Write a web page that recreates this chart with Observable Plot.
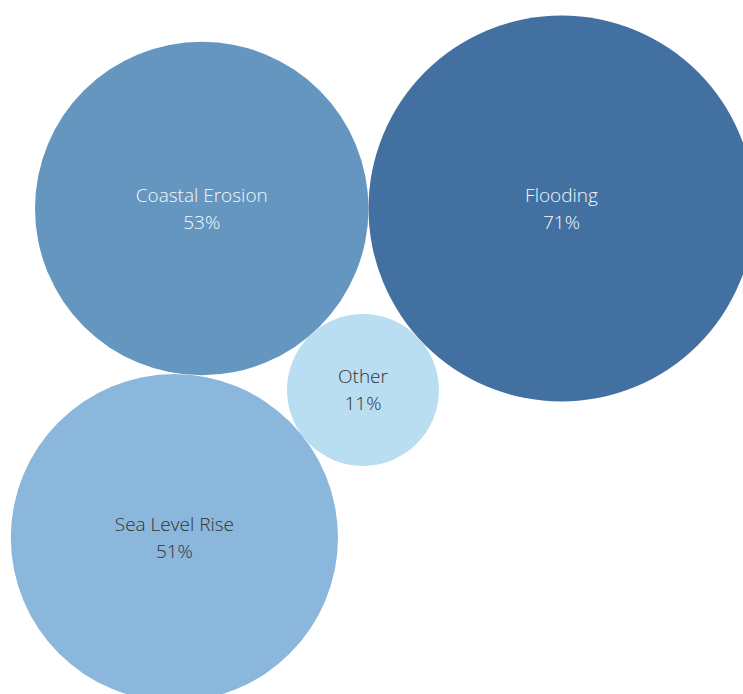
<!DOCTYPE html>
<html>
<head>
<meta charset="utf-8">
<script src="https://cdn.jsdelivr.net/npm/d3@7"></script>
<script src="https://cdn.jsdelivr.net/npm/@observablehq/plot@0.6"></script>
<style>
  html, body { margin: 0; padding: 0; background: #fff; overflow: hidden; }
</style>
</head>
<body>
<div id="chart"></div>
<script>
// Data
const categories = ["Flooding", "Coastal Erosion", "Other", "Sea Level Rise"];
const values = [71, 53, 11, 51];
const labels = ["71%", "53%", "11%", "51%"];
const fills = ["#4270a0", "#6496bf", "#b9ddf1", "#8ab7db"];
const textColors = ["#f4f8fb", "#f4f8fb", "#333333", "#333333"];

const W = 743, H = 694, maxR = 193;
const rad = d3.scaleSqrt().domain([0, d3.max(values)]).range([0, maxR]);

// Packed-bubble layout: each circle tangent to previously placed ones
function tangent(a, b, r, side) {
  const dx = b.x - a.x, dy = b.y - a.y;
  const d = Math.hypot(dx, dy);
  const da = a.r + r, db = b.r + r;
  const t = (da * da - db * db + d * d) / (2 * d);
  const h = Math.sqrt(Math.max(0, da * da - t * t));
  const ux = dx / d, uy = dy / d;
  return { x: a.x + t * ux - side * h * uy, y: a.y + t * uy + side * h * ux };
}
const nodes = categories.map((c, i) => ({ name: c, value: values[i], label: labels[i], fill: fills[i], color: textColors[i], r: rad(values[i]) }));
const [F, C, O, S] = nodes;
F.x = 0; F.y = 0;
C.x = -(F.r + C.r); C.y = 0;
Object.assign(O, tangent(C, F, O.r, 1));
Object.assign(S, tangent(C, O, S.r, 1));

const chart = Plot.plot({
  width: W,
  height: H,
  margin: 0,
  x: { domain: [-561, W - 561], range: [0, W], axis: null },
  y: { domain: [-208, H - 208], range: [0, H], axis: null },
  r: { type: "sqrt", domain: [0, d3.max(values)], range: [0, maxR] },
  style: { fontFamily: "'Open Sans', sans-serif" },
  marks: [
    Plot.dot(nodes, { x: "x", y: "y", r: "value", fill: d => d.fill, stroke: "none", fillOpacity: 1 }),
    Plot.text(nodes, {
      x: "x", y: "y",
      text: d => d.name + "\n" + d.label,
      fill: d => d.color,
      fontSize: 19,
      fontWeight: 300,
      lineHeight: 1.42,
      dy: -2,
      textAnchor: "middle"
    })
  ]
});
document.getElementById("chart").appendChild(chart);
</script>
</body>
</html>
